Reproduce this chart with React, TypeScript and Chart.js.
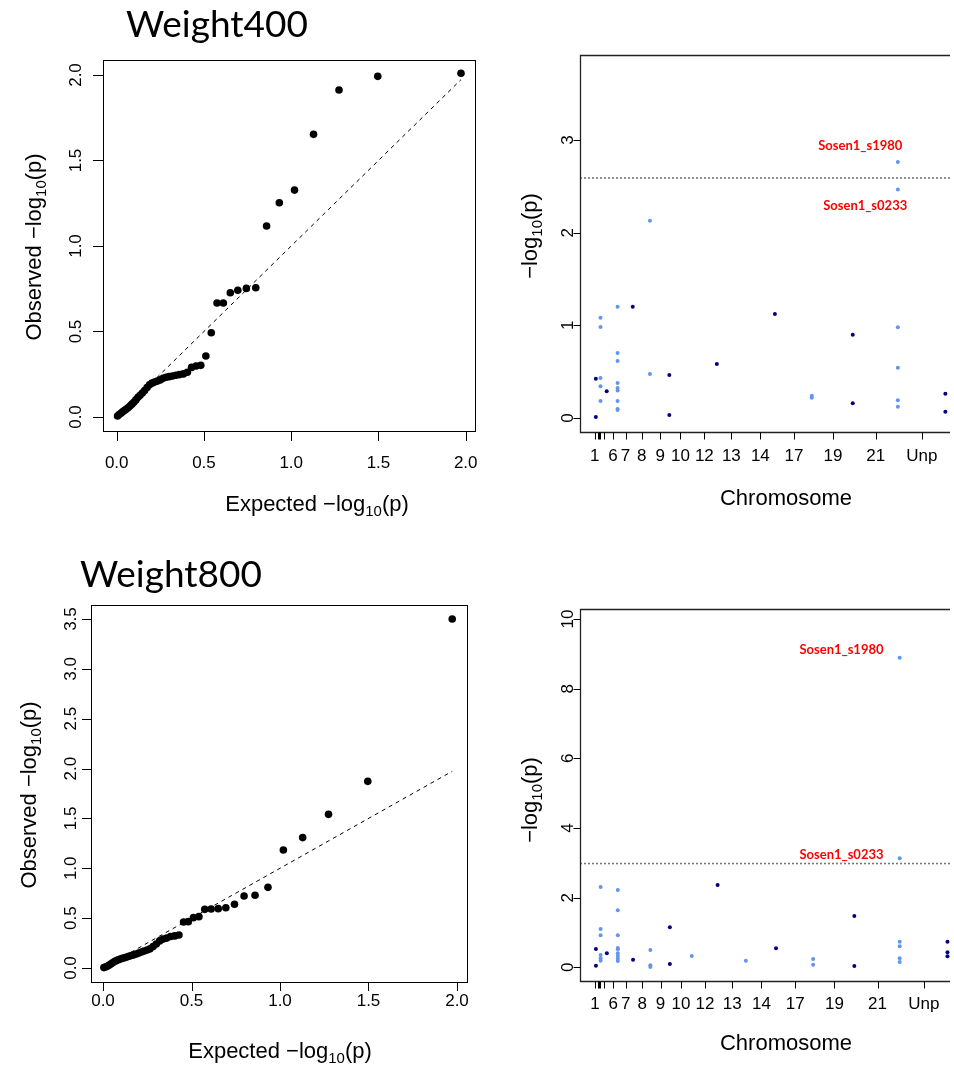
import React, { useEffect, useRef } from "react";
import { Chart, registerables } from "chart.js";

Chart.register(...registerables);

const W = 954;
const H = 1065;
const FONT = '"Liberation Sans", Arial, Helvetica, sans-serif';
const TITLE_FONT = 'Lato, "Open Sans", sans-serif';

// ---------------- QQ plot data (expected / observed -log10 p) ----------------
const qqExpected = [1.973, 1.496, 1.274, 1.128, 1.019, 0.932, 0.859, 0.797, 0.743, 0.694, 0.651, 0.611, 0.575, 0.542, 0.511, 0.482, 0.455, 0.429, 0.405, 0.382, 0.36, 0.34, 0.32, 0.301, 0.283, 0.266, 0.249, 0.233, 0.217, 0.202, 0.188, 0.174, 0.16, 0.147, 0.134, 0.122, 0.11, 0.098, 0.087, 0.076, 0.065, 0.054, 0.044, 0.034, 0.024, 0.014, 0.005];
const qqObserved400 = [2.01, 1.992, 1.912, 1.653, 1.327, 1.253, 1.117, 0.756, 0.752, 0.741, 0.727, 0.667, 0.667, 0.493, 0.357, 0.302, 0.298, 0.29, 0.262, 0.252, 0.248, 0.244, 0.24, 0.236, 0.232, 0.226, 0.217, 0.21, 0.204, 0.198, 0.188, 0.172, 0.155, 0.14, 0.127, 0.115, 0.1, 0.086, 0.075, 0.064, 0.054, 0.045, 0.038, 0.03, 0.022, 0.014, 0.006];
const qqObserved800 = [3.5, 1.872, 1.541, 1.308, 1.184, 0.809, 0.729, 0.722, 0.639, 0.605, 0.595, 0.592, 0.588, 0.515, 0.505, 0.465, 0.461, 0.331, 0.322, 0.316, 0.3, 0.29, 0.272, 0.24, 0.215, 0.192, 0.18, 0.17, 0.16, 0.15, 0.14, 0.132, 0.125, 0.118, 0.11, 0.103, 0.097, 0.09, 0.083, 0.074, 0.064, 0.052, 0.04, 0.028, 0.018, 0.01, 0.004];
const qqXTicks = [0, 0.5, 1, 1.5, 2];
const qqXTickLabels = ["0.0", "0.5", "1.0", "1.5", "2.0"];
const qq400YTicks = [0, 0.5, 1, 1.5, 2];
const qq400YTickLabels = ["0.0", "0.5", "1.0", "1.5", "2.0"];
const qq800YTicks = [0, 0.5, 1, 1.5, 2, 2.5, 3, 3.5];
const qq800YTickLabels = ["0.0", "0.5", "1.0", "1.5", "2.0", "2.5", "3.0", "3.5"];

// ---------------- Manhattan data ----------------
const chromLabels = ["1", "2", "3", "4", "5", "6", "7", "8", "9", "10", "12", "13", "14", "17", "19", "21", "Unp"];
// cumulative genome position of each chromosome tick
const chromTickPos = [15, 17.7, 19.5, 20.1, 24.0, 33.3, 46, 62.5, 81, 101.5, 125.7, 153, 182.3, 216.3, 255.7, 299, 345.5];

const snpChrom400 = ["1", "1", "4", "4", "4", "4", "4", "5", "6", "6", "6", "6", "6", "6", "6", "6", "6", "7", "8", "8", "9", "9", "12", "14", "17", "17", "19", "19", "21", "21", "21", "21", "21", "21", "Unp", "Unp"];
const snpPos400 = [16, 16, 20.7, 20.7, 20.7, 20.7, 20.7, 27, 38, 38, 38, 38, 38, 38, 38, 38, 38, 53.3, 70.7, 70.7, 90.3, 90.3, 138.3, 197, 234.3, 234.3, 275.7, 275.7, 321.3, 321.3, 321.3, 321.3, 321.3, 321.3, 369.3, 369.3];
const snpLogP400 = [0.424, 0.011, 1.082, 0.982, 0.431, 0.342, 0.183, 0.288, 1.201, 0.701, 0.615, 0.378, 0.324, 0.298, 0.183, 0.097, 0.086, 1.201, 2.129, 0.475, 0.464, 0.032, 0.583, 1.122, 0.241, 0.219, 0.899, 0.158, 2.762, 2.467, 0.978, 0.543, 0.191, 0.122, 0.262, 0.068];

const snpChrom800 = ["1", "1", "4", "4", "4", "4", "4", "4", "5", "6", "6", "6", "6", "6", "6", "6", "6", "6", "7", "8", "8", "8", "9", "9", "10", "12", "13", "14", "17", "17", "19", "19", "21", "21", "21", "21", "21", "21", "Unp", "Unp", "Unp"];
const snpPos800 = [16, 16, 20.7, 20.7, 20.7, 20.7, 20.7, 20.7, 27, 38, 38, 38, 38, 38, 38, 38, 38, 38, 53.3, 70.7, 70.7, 70.7, 90.3, 90.3, 112.3, 138.3, 166.7, 197, 234.3, 234.3, 275.7, 275.7, 321.3, 321.3, 321.3, 321.3, 321.3, 321.3, 369.3, 369.3, 369.3];
const snpLogP800 = [0.526, 0.048, 2.306, 1.1, 0.919, 0.354, 0.258, 0.191, 0.402, 2.22, 1.636, 0.919, 0.555, 0.517, 0.402, 0.325, 0.249, 0.182, 0.22, 0.498, 0.057, 0.01, 1.148, 0.096, 0.325, 2.364, 0.191, 0.545, 0.239, 0.077, 1.474, 0.038, 8.89, 3.129, 0.737, 0.603, 0.258, 0.153, 0.737, 0.431, 0.316];

const threshold400 = 2.59;
const threshold800 = 2.98;
const man400YTicks = [0, 1, 2, 3];
const man800YTicks = [0, 2, 4, 6, 8, 10];

const annot400 = [
  { text: "Sosen1_s1980", pos: 283.3, value: 2.94 },
  { text: "Sosen1_s0233", pos: 288.3, value: 2.29 },
];
const annot800 = [
  { text: "Sosen1_s1980", pos: 262.8, value: 9.12 },
  { text: "Sosen1_s0233", pos: 262.8, value: 3.25 },
];

const DARK = "#000080";
const LIGHT = "#6495ED";

// ---------------- drawing helpers ----------------
function drawLogTitle(ctx: CanvasRenderingContext2D, prefix: string, cx: number, cy: number, size: number, rotate: boolean) {
  const sub = size * 0.68;
  ctx.save();
  ctx.translate(cx, cy);
  if (rotate) ctx.rotate(-Math.PI / 2);
  ctx.fillStyle = "#000";
  ctx.textAlign = "left";
  ctx.textBaseline = "alphabetic";
  const a = prefix + "\u2212log";
  ctx.font = `${size}px ${FONT}`;
  const wa = ctx.measureText(a).width;
  const wc = ctx.measureText("(p)").width;
  ctx.font = `${sub}px ${FONT}`;
  const wb = ctx.measureText("10").width;
  const total = wa + wb + wc;
  const base = size * 0.36;
  let x = -total / 2;
  ctx.font = `${size}px ${FONT}`;
  ctx.fillText(a, x, base);
  x += wa;
  ctx.font = `${sub}px ${FONT}`;
  ctx.fillText("10", x, base + size * 0.22);
  x += wb;
  ctx.font = `${size}px ${FONT}`;
  ctx.fillText("(p)", x, base);
  ctx.restore();
}

function drawRotatedLabel(ctx: CanvasRenderingContext2D, text: string, cx: number, cy: number, size: number) {
  ctx.save();
  ctx.translate(cx, cy);
  ctx.rotate(-Math.PI / 2);
  ctx.textAlign = "center";
  ctx.textBaseline = "alphabetic";
  ctx.fillText(text, 0, size * 0.36);
  ctx.restore();
}

type QQCfg = {
  title: string;
  titleX: number;
  titleBaseline: number;
  pad: { left: number; top: number; right: number; bottom: number };
  xRange: [number, number];
  yRange: [number, number];
  observed: number[];
  yTicks: number[];
  yTickLabels: string[];
  tickLen: number;
  xLabelDy: number;
  yLabelDx: number;
  xTitle: [number, number];
  yTitle: [number, number];
};

type ManCfg = {
  pad: { left: number; top: number; right: number; bottom: number };
  xRange: [number, number];
  yRange: [number, number];
  chrom: string[];
  pos: number[];
  logp: number[];
  threshold: number;
  yTicks: number[];
  annots: { text: string; pos: number; value: number }[];
  tickLen: number;
  xLabelDy: number;
  yLabelDx: number;
  xTitle: [number, number];
  yTitle: [number, number];
};

const qq400: QQCfg = {
  title: "Weight400",
  titleX: 126,
  titleBaseline: 37,
  pad: { left: 103, top: 60, right: W - 475, bottom: H - 431 },
  xRange: [-0.0785, 2.0533],
  yRange: [-0.0819, 2.0877],
  observed: qqObserved400,
  yTicks: qq400YTicks,
  yTickLabels: qq400YTickLabels,
  tickLen: 10,
  xLabelDy: 30.5,
  yLabelDx: 28,
  xTitle: [317, 503],
  yTitle: [33, 247],
};

const qq800: QQCfg = {
  title: "Weight800",
  titleX: 80,
  titleBaseline: 587,
  pad: { left: 91, top: 605, right: W - 467, bottom: H - 982 },
  xRange: [-0.0678, 2.0565],
  yRange: [-0.1404, 3.6406],
  observed: qqObserved800,
  yTicks: qq800YTicks,
  yTickLabels: qq800YTickLabels,
  tickLen: 9,
  xLabelDy: 18,
  yLabelDx: 21,
  xTitle: [280, 1050],
  yTitle: [28, 795],
};

const man400: ManCfg = {
  pad: { left: 580, top: 55, right: 0, bottom: H - 432 },
  xRange: [0, 374],
  yRange: [-0.151, 3.917],
  chrom: snpChrom400,
  pos: snpPos400,
  logp: snpLogP400,
  threshold: threshold400,
  yTicks: man400YTicks,
  annots: annot400,
  tickLen: 7,
  xLabelDy: 23,
  yLabelDx: 13,
  xTitle: [786, 497],
  yTitle: [529, 236],
};

const man800: ManCfg = {
  pad: { left: 580, top: 609, right: 0, bottom: H - 981 },
  xRange: [0, 371.84],
  yRange: [-0.393, 10.287],
  chrom: snpChrom800,
  pos: snpPos800,
  logp: snpLogP800,
  threshold: threshold800,
  yTicks: man800YTicks,
  annots: annot800,
  tickLen: 7,
  xLabelDy: 22,
  yLabelDx: 13,
  xTitle: [786, 1042],
  yTitle: [529, 800],
};

function baseScales(xr: [number, number], yr: [number, number]) {
  return {
    x: { type: "linear" as const, display: false, min: xr[0], max: xr[1], bounds: "data" as const },
    y: { type: "linear" as const, display: false, min: yr[0], max: yr[1], bounds: "data" as const },
  };
}

function makeQQ(canvas: HTMLCanvasElement, cfg: QQCfg) {
  const points = qqExpected.map((e, i) => ({ x: e, y: cfg.observed[i] }));
  const maxE = qqExpected[0];
  const plugin = {
    id: "qqAxes",
    afterDraw(chart: any) {
      const ctx: CanvasRenderingContext2D = chart.ctx;
      const a = chart.chartArea;
      const xs = chart.scales.x;
      const ys = chart.scales.y;
      ctx.save();
      ctx.strokeStyle = "#000";
      ctx.lineWidth = 1;
      ctx.strokeRect(Math.round(a.left) + 0.5, Math.round(a.top) + 0.5, Math.round(a.right - a.left), Math.round(a.bottom - a.top));
      ctx.beginPath();
      qqXTicks.forEach((v) => {
        const px = Math.round(xs.getPixelForValue(v)) + 0.5;
        ctx.moveTo(px, a.bottom);
        ctx.lineTo(px, a.bottom + cfg.tickLen);
      });
      cfg.yTicks.forEach((v) => {
        const py = Math.round(ys.getPixelForValue(v)) + 0.5;
        ctx.moveTo(a.left, py);
        ctx.lineTo(a.left - cfg.tickLen, py);
      });
      ctx.stroke();
      ctx.fillStyle = "#000";
      const fs = 17;
      ctx.font = `${fs}px ${FONT}`;
      ctx.textAlign = "center";
      ctx.textBaseline = "alphabetic";
      qqXTicks.forEach((v, i) => {
        ctx.fillText(qqXTickLabels[i], xs.getPixelForValue(v), a.bottom + cfg.xLabelDy + fs * 0.36);
      });
      cfg.yTicks.forEach((v, i) => {
        drawRotatedLabel(ctx, cfg.yTickLabels[i], a.left - cfg.yLabelDx, ys.getPixelForValue(v), fs);
      });
      drawLogTitle(ctx, "Expected ", cfg.xTitle[0], cfg.xTitle[1], 22, false);
      drawLogTitle(ctx, "Observed ", cfg.yTitle[0], cfg.yTitle[1], 22, true);
      ctx.font = `37px ${TITLE_FONT}`;
      ctx.textAlign = "left";
      ctx.fillText(cfg.title, cfg.titleX, cfg.titleBaseline);
      ctx.restore();
    },
  };
  return new Chart(canvas, {
    type: "scatter",
    data: {
      datasets: [
        {
          data: points,
          pointRadius: 3.8,
          pointBackgroundColor: "#000",
          pointBorderWidth: 0,
          borderColor: "#000",
        },
        {
          data: [
            { x: 0, y: 0 },
            { x: maxE, y: maxE },
          ],
          showLine: true,
          borderColor: "#000",
          borderWidth: 1,
          borderDash: [4, 4],
          pointRadius: 0,
        },
      ],
    },
    options: {
      responsive: false,
      animation: false,
      devicePixelRatio: 1,
      events: [],
      layout: { padding: cfg.pad },
      plugins: { legend: { display: false }, tooltip: { enabled: false }, title: { display: false } },
      scales: baseScales(cfg.xRange, cfg.yRange),
    },
    plugins: [plugin],
  } as any);
}

function makeManhattan(canvas: HTMLCanvasElement, cfg: ManCfg) {
  const points = cfg.pos.map((p, i) => ({ x: p, y: cfg.logp[i] }));
  const colors = cfg.chrom.map((c) => (chromLabels.indexOf(c) % 2 === 0 ? DARK : LIGHT));
  const plugin = {
    id: "manAxes",
    afterDraw(chart: any) {
      const ctx: CanvasRenderingContext2D = chart.ctx;
      const a = chart.chartArea;
      const xs = chart.scales.x;
      const ys = chart.scales.y;
      const L = Math.round(a.left) + 0.5;
      const T = Math.round(a.top) + 0.5;
      const B = Math.round(a.bottom) + 0.5;
      ctx.save();
      ctx.strokeStyle = "#222";
      ctx.lineWidth = 1.3;
      ctx.beginPath();
      ctx.moveTo(a.right, T);
      ctx.lineTo(L, T);
      ctx.lineTo(L, B);
      ctx.lineTo(a.right, B);
      ctx.stroke();
      ctx.lineWidth = 1;
      ctx.strokeStyle = "#000";
      ctx.beginPath();
      chromTickPos.forEach((v) => {
        const px = Math.round(xs.getPixelForValue(v)) + 0.5;
        ctx.moveTo(px, B);
        ctx.lineTo(px, B + cfg.tickLen);
      });
      cfg.yTicks.forEach((v) => {
        const py = Math.round(ys.getPixelForValue(v)) + 0.5;
        ctx.moveTo(L, py);
        ctx.lineTo(L - cfg.tickLen, py);
      });
      ctx.stroke();
      const fs = 17;
      ctx.fillStyle = "#000";
      ctx.font = `${fs}px ${FONT}`;
      ctx.textAlign = "center";
      ctx.textBaseline = "alphabetic";
      let lastRight = -Infinity;
      chromTickPos.forEach((v, i) => {
        const txt = chromLabels[i];
        const w = ctx.measureText(txt).width;
        const cx = xs.getPixelForValue(v);
        if (cx - w / 2 >= lastRight + 1) {
          ctx.fillText(txt, cx, a.bottom + cfg.xLabelDy + fs * 0.36);
          lastRight = cx + w / 2;
        }
      });
      cfg.yTicks.forEach((v) => {
        drawRotatedLabel(ctx, String(v), a.left - cfg.yLabelDx, ys.getPixelForValue(v), fs);
      });
      ctx.font = `22px ${FONT}`;
      ctx.fillText("Chromosome", cfg.xTitle[0], cfg.xTitle[1] + 22 * 0.36);
      drawLogTitle(ctx, "", cfg.yTitle[0], cfg.yTitle[1], 22, true);
      ctx.fillStyle = "#ff0000";
      ctx.font = `bold 13px ${TITLE_FONT}`;
      cfg.annots.forEach((an) => {
        ctx.fillText(an.text, xs.getPixelForValue(an.pos), ys.getPixelForValue(an.value) + 13 * 0.36);
      });
      ctx.restore();
    },
  };
  return new Chart(canvas, {
    type: "scatter",
    data: {
      datasets: [
        {
          data: points,
          pointRadius: 2,
          pointBackgroundColor: colors,
          pointBorderWidth: 0,
          borderColor: colors,
        },
        {
          data: [
            { x: cfg.xRange[0], y: cfg.threshold },
            { x: cfg.xRange[1], y: cfg.threshold },
          ],
          showLine: true,
          borderColor: "#777",
          borderWidth: 1.6,
          borderDash: [2, 2],
          pointRadius: 0,
        },
      ],
    },
    options: {
      responsive: false,
      animation: false,
      devicePixelRatio: 1,
      events: [],
      layout: { padding: cfg.pad },
      plugins: { legend: { display: false }, tooltip: { enabled: false }, title: { display: false } },
      scales: baseScales(cfg.xRange, cfg.yRange),
    },
    plugins: [plugin],
  } as any);
}

export default function App() {
  const r1 = useRef<HTMLCanvasElement>(null);
  const r2 = useRef<HTMLCanvasElement>(null);
  const r3 = useRef<HTMLCanvasElement>(null);
  const r4 = useRef<HTMLCanvasElement>(null);

  useEffect(() => {
    const charts = [
      makeQQ(r1.current!, qq400),
      makeQQ(r2.current!, qq800),
      makeManhattan(r3.current!, man400),
      makeManhattan(r4.current!, man800),
    ];
    return () => charts.forEach((c) => c.destroy());
  }, []);

  const cs: React.CSSProperties = { position: "absolute", left: 0, top: 0, width: W, height: H };
  return (
    <div style={{ position: "absolute", left: 0, top: 0, width: W, height: H, overflow: "hidden", background: "#fff" }}>
      <canvas ref={r1} width={W} height={H} style={cs} />
      <canvas ref={r2} width={W} height={H} style={cs} />
      <canvas ref={r3} width={W} height={H} style={cs} />
      <canvas ref={r4} width={W} height={H} style={cs} />
    </div>
  );
}
